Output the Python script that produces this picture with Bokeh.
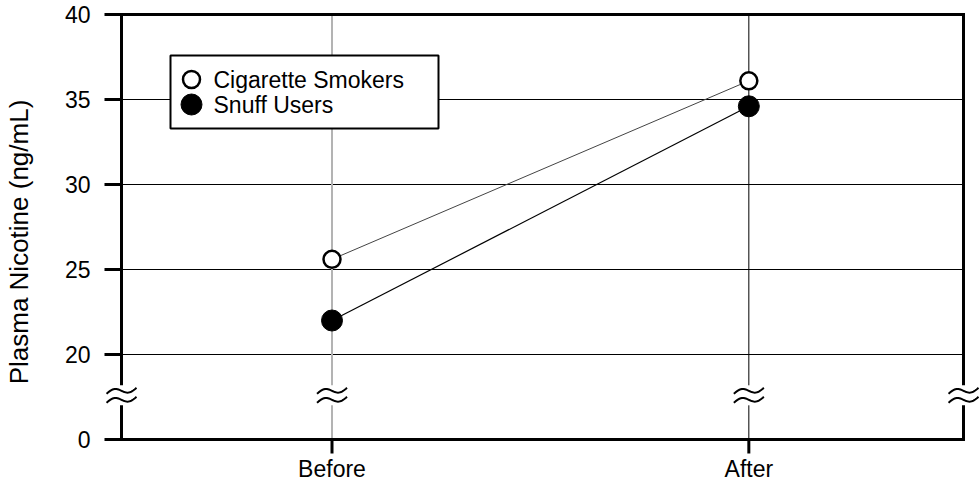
import numpy as np
from bokeh.plotting import figure
from bokeh.models import FixedTicker
from bokeh.core.properties import value
from bokeh.embed import file_html
from bokeh.resources import INLINE

# ---------------- data ----------------
categories = ["Before", "After"]
cat_pos = [1, 2]
series_names = ["Cigarette Smokers", "Snuff Users"]
smokers = [25.6, 36.1]
snuff = [22.0, 34.6]
y_ticks = [15, 20, 25, 30, 35, 40]
y_tick_labels = ["0", "20", "25", "30", "35", "40"]
grid_values = [20, 25, 30, 35]
y_label = "Plasma Nicotine (ng/mL)"

# ---------------- layout (canvas pixels) ----------------
W, H = 980, 483
FL, FT = 104, 0
FB, FR = H, W
BL, BR, BT, BB = 121, 963, 14, 439
X_LO, X_HI = 0.495, 2.515
Y_LO, Y_HI = 15, 40
BREAK_Y = 17.6
FONT = "Liberation Sans"

sx = (BR - BL) / (X_HI - X_LO)
sy = (BB - BT) / (Y_HI - Y_LO)
x_start = X_LO - (BL - FL) / sx
x_end = X_HI + (FR - BR) / sx
y_start = Y_LO - (FB - BB) / sy
y_end = Y_HI + (BT - FT) / sy


def dx(px):
    return px / sx


def dy(px):
    return px / sy


def X(cx):
    return x_start + (cx - FL) / sx


def Y(cy):
    return y_end - (cy - FT) / sy


p = figure(width=W, height=H, x_range=(x_start, x_end), y_range=(y_start, y_end),
           output_backend="svg", toolbar_location=None, x_axis_location=None,
           min_border_left=FL, min_border_right=0, min_border_top=0,
           min_border_bottom=0)
p.outline_line_color = None
p.grid.visible = False
p.background_fill_color = "white"
p.border_fill_color = "white"

# y axis
ya = p.yaxis[0]
ya.ticker = FixedTicker(ticks=y_ticks)
ya.major_label_overrides = {t: l for t, l in zip(y_ticks, y_tick_labels)}
ya.axis_line_color = None
ya.major_tick_in = BL - FL
ya.major_tick_out = 0
ya.major_tick_line_width = 3
ya.major_tick_line_color = "black"
ya.minor_tick_line_color = None
ya.major_label_standoff = 14
ya.major_label_text_font = FONT
ya.major_label_text_font_size = "23px"
ya.major_label_text_color = "black"
ya.axis_label = y_label
ya.axis_label_text_font = FONT
ya.axis_label_text_font_size = "26px"
ya.axis_label_text_font_style = "normal"
ya.axis_label_text_color = "black"
ya.axis_label_standoff = 28

gap = dy(10)

# horizontal grid lines
n = len(grid_values)
p.segment(x0=[X_LO] * n, y0=grid_values, x1=[X_HI] * n, y1=grid_values,
          line_color="black", line_width=1)

# vertical grid lines at categories (broken)
vcol = ["#b3b3b3", "black"]
vw = [2, 1]
p.segment(x0=cat_pos + cat_pos,
          y0=[Y_LO, Y_LO, BREAK_Y + gap, BREAK_Y + gap],
          x1=cat_pos + cat_pos,
          y1=[BREAK_Y - gap, BREAK_Y - gap, Y_HI, Y_HI],
          line_color=vcol + vcol, line_width=vw + vw)

# frame border (broken on left/right)
p.multi_line(xs=[[X_LO, X_LO, X_HI, X_HI], [X_LO, X_LO, X_HI, X_HI]],
             ys=[[BREAK_Y - gap, Y_LO, Y_LO, BREAK_Y - gap],
                 [BREAK_Y + gap, Y_HI, Y_HI, BREAK_Y + gap]],
             line_color="black", line_width=3, line_join="miter")

# category ticks and labels (bottom)
m = len(cat_pos)
p.segment(x0=cat_pos, y0=[Y_LO] * m, x1=cat_pos, y1=[Y_LO - dy(14)] * m,
          line_color="black", line_width=3)
p.text(x=cat_pos, y=[Y(468)] * m, text=categories,
       text_font=value(FONT), text_font_size="23px", text_color="black",
       text_baseline="middle", text_align="center")

# axis break symbols
t = np.linspace(0, 1, 31)
ox = -15 + 30 * t
oy = 3.2 * np.sin(2 * np.pi * t) + 6 * (t - 0.5)
bxs, bys = [], []
for bx in [X_LO] + cat_pos + [X_HI]:
    for off in (4.5, -4.5):
        bxs.append(list(bx + dx(ox)))
        bys.append(list(BREAK_Y + dy(oy + off)))
p.multi_line(xs=bxs, ys=bys, line_color="black", line_width=2)

# data
p.line(cat_pos, smokers, line_color="#444444", line_width=1)
p.line(cat_pos, snuff, line_color="black", line_width=1.2)
p.scatter(cat_pos, smokers, size=17, fill_color="white", line_color="black", line_width=2.5)
p.scatter(cat_pos, snuff, size=21, fill_color="black", line_color="black", line_width=1)

# legend
p.quad(left=[X(170)], right=[X(438)], top=[Y(55)], bottom=[Y(128)],
       fill_color="white", line_color="black", line_width=2)
p.scatter([X(191)], [Y(79)], size=17, fill_color="white", line_color="black", line_width=2.5)
p.scatter([X(191)], [Y(104)], size=21, fill_color="black", line_color="black", line_width=1)
p.text(x=[X(213), X(213)], y=[Y(79), Y(104)], text=series_names,
       text_font=value(FONT), text_font_size="23px", text_color="black",
       text_baseline="middle", text_align="left")

open("out.html", "w").write(file_html(p, INLINE))
